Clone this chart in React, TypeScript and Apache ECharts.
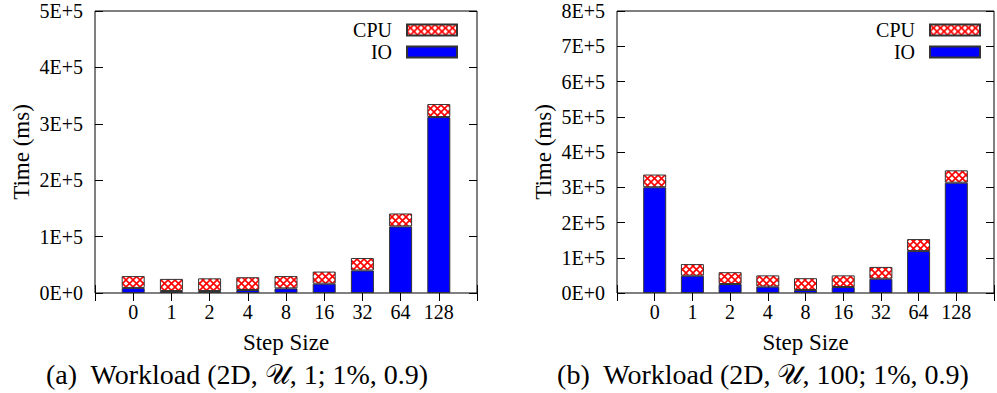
import React, { useEffect, useRef } from "react";
import * as echarts from "echarts";

const categories = ["0", "1", "2", "4", "8", "16", "32", "64", "128"];
const ioA = [9000, 3500, 3500, 5300, 8200, 16500, 40000, 118000, 312000];
const cpuA = [21000, 21500, 22500, 22700, 21800, 21500, 22000, 23000, 23000];
const ioB = [300000, 49000, 25500, 18000, 8500, 17000, 40500, 119000, 313000];
const cpuB = [36000, 33000, 33500, 32000, 33500, 33000, 33500, 34000, 35000];
const yTicksA = { max: 500000, interval: 100000 };
const yTicksB = { max: 800000, interval: 100000 };
const captionA = "(a)  Workload (2D, 𝒰, 1; 1%, 0.9)";
const captionB = "(b)  Workload (2D, 𝒰, 100; 1%, 0.9)";

const FONT = "'Liberation Serif', 'DejaVu Serif', serif";

function makeHatch() {
  const c = document.createElement("canvas");
  const s = 7;
  c.width = s;
  c.height = s;
  const ctx = c.getContext("2d")!;
  ctx.fillStyle = "#ffffff";
  ctx.fillRect(0, 0, s, s);
  ctx.strokeStyle = "#ff0000";
  ctx.lineWidth = 1.6;
  ctx.beginPath();
  ctx.moveTo(0, 0);
  ctx.lineTo(s, s);
  ctx.moveTo(s, 0);
  ctx.lineTo(0, s);
  ctx.stroke();
  return c;
}

const pad = (arr: (number | string)[]) => [null, ...arr, null];
const yFmt = (v: number) => (v === 0 ? "0E+0" : `${Math.round(v / 1e5)}E+5`);

export default function App() {
  const ref = useRef<HTMLDivElement>(null);
  useEffect(() => {
    const chart = echarts.init(ref.current!, undefined, { renderer: "svg" });
    const hatch = { image: makeHatch(), repeat: "repeat" };
    const xCats = ["", ...categories, ""];
    const grids = [
      { left: 95, top: 11, width: 382, height: 282 },
      { left: 617, top: 11, width: 383, height: 282 },
    ];
    const xAxes: any[] = [];
    const yAxes: any[] = [];
    [0, 1].forEach((g) => {
      xAxes.push({
        type: "category",
        gridIndex: g,
        data: xCats,
        boundaryGap: false,
        position: "bottom",
        name: "Step Size",
        nameLocation: "middle",
        nameGap: 38,
        nameTextStyle: { fontFamily: FONT, fontSize: 23, color: "#000" },
        axisLine: { show: false },
        axisTick: { show: true, inside: true, length: 8, lineStyle: { color: "#000" } },
        axisLabel: { fontFamily: FONT, fontSize: 20, color: "#000", margin: 9, interval: 0 },
        splitLine: { show: false },
      });
      xAxes.push({
        type: "category",
        gridIndex: g,
        data: xCats,
        boundaryGap: false,
        position: "top",
        axisLine: { show: false },
        axisTick: { show: true, inside: true, length: 8, lineStyle: { color: "#000" } },
        axisLabel: { show: false },
        splitLine: { show: false },
      });
      const t = g === 0 ? yTicksA : yTicksB;
      yAxes.push({
        type: "value",
        gridIndex: g,
        min: 0,
        max: t.max,
        interval: t.interval,
        position: "left",
        name: "Time (ms)",
        nameLocation: "middle",
        nameGap: 62,
        nameTextStyle: { fontFamily: FONT, fontSize: 23, color: "#000" },
        axisLine: { show: false },
        axisTick: { show: true, inside: true, length: 8, lineStyle: { color: "#000" } },
        axisLabel: { fontFamily: FONT, fontSize: 20, color: "#000", margin: 12, formatter: yFmt },
        splitLine: { show: false },
      });
      yAxes.push({
        type: "value",
        gridIndex: g,
        min: 0,
        max: t.max,
        interval: t.interval,
        position: "right",
        axisLine: { show: false },
        axisTick: { show: true, inside: true, length: 8, lineStyle: { color: "#000" } },
        axisLabel: { show: false },
        splitLine: { show: false },
      });
    });
    const border = { borderColor: "#333", borderWidth: 1 };
    const series: any[] = [];
    [
      [ioA, cpuA],
      [ioB, cpuB],
    ].forEach(([io, cpu], g) => {
      series.push({
        type: "bar",
        name: "IO",
        xAxisIndex: g * 2,
        yAxisIndex: g * 2,
        stack: "s" + g,
        barWidth: 23,
        data: pad(io),
        itemStyle: { color: "#0000ff", ...border },
      });
      series.push({
        type: "bar",
        name: "CPU",
        xAxisIndex: g * 2,
        yAxisIndex: g * 2,
        stack: "s" + g,
        barWidth: 23,
        data: pad(cpu),
        itemStyle: { color: hatch, ...border },
      });
    });
    const legendBase = {
      orient: "vertical",
      align: "right",
      icon: "rect",
      itemWidth: 50,
      itemHeight: 11,
      itemGap: 2,
      padding: 0,
      selectedMode: false,
      data: ["CPU", "IO"],
      textStyle: { fontFamily: FONT, fontSize: 20, color: "#000", padding: [0, 10, 0, 0] },
    };
    chart.setOption({
      animation: false,
      backgroundColor: "#fff",
      grid: grids.map((g) => ({ ...g, show: true, borderColor: "#000", borderWidth: 1, backgroundColor: "transparent" })),
      xAxis: xAxes,
      yAxis: yAxes,
      legend: [
        { ...legendBase, right: 539, top: 20 },
        { ...legendBase, right: 16, top: 20 },
      ],
      series,
      graphic: [
        {
          type: "text",
          x: 237,
          y: 374,
          style: { text: captionA, fontFamily: FONT, fontSize: 28, fill: "#000", align: "center", verticalAlign: "middle" },
        },
        {
          type: "text",
          x: 763,
          y: 374,
          style: { text: captionB, fontFamily: FONT, fontSize: 28, fill: "#000", align: "center", verticalAlign: "middle" },
        },
      ],
    });
    return () => chart.dispose();
  }, []);
  return <div ref={ref} style={{ position: "absolute", left: 0, top: 0, width: 997, height: 393 }} />;
}
